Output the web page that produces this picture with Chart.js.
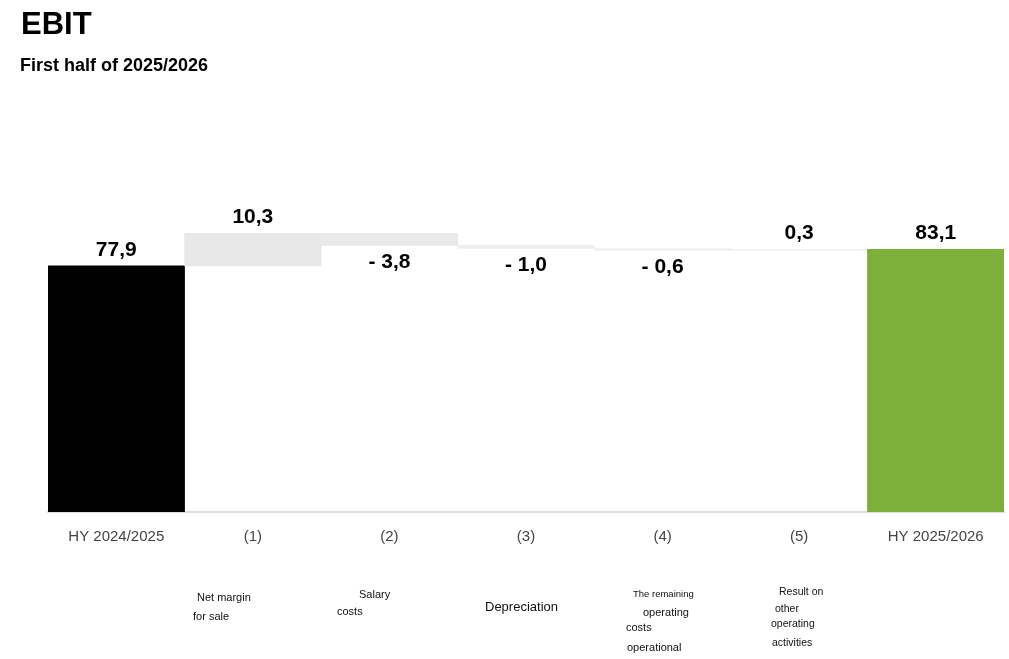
<!DOCTYPE html>
<html>
<head>
<meta charset="utf-8">
<script src="https://cdn.jsdelivr.net/npm/chart.js@4"></script>
<style>
    body { margin: 0; background: #fff; font-family: "Liberation Sans", Arial, sans-serif; }
    #wrap { position: relative; width: 1009px; height: 659px; overflow: hidden; }
    #chart-box { position: absolute; left: 0; top: 0; width: 1009px; height: 659px; }
    .title { position: absolute; left: 21px; top: 8px; font-size: 31px; font-weight: bold; line-height: 1; color: #000; }
    .subtitle { position: absolute; left: 20px; top: 56px; font-size: 18px; font-weight: bold; line-height: 1; color: #000; }
    .note { position: absolute; line-height: 1; color: #111; white-space: nowrap; }
</style>
</head>
<body>
<div id="wrap">
    <div id="chart-box"><canvas id="ebitChart"></canvas></div>
    <div class="title">EBIT</div>
    <div class="subtitle">First half of 2025/2026</div>

    <!-- подписи под категориями -->
    <div class="note" style="left:197px; top:592px; font-size:11px;">Net margin</div>
    <div class="note" style="left:193px; top:611px; font-size:11px;">for sale</div>
    <div class="note" style="left:359px; top:589px; font-size:11px;">Salary</div>
    <div class="note" style="left:337px; top:606px; font-size:11px;">costs</div>
    <div class="note" style="left:485px; top:600px; font-size:13px;">Depreciation</div>
    <div class="note" style="left:633px; top:589px; font-size:9.5px;">The remaining</div>
    <div class="note" style="left:643px; top:607px; font-size:11px;">operating</div>
    <div class="note" style="left:626px; top:622px; font-size:11px;">costs</div>
    <div class="note" style="left:627px; top:642px; font-size:11px;">operational</div>
    <div class="note" style="left:779px; top:586px; font-size:10.5px;">Result on</div>
    <div class="note" style="left:775px; top:603px; font-size:10.5px;">other</div>
    <div class="note" style="left:771px; top:618px; font-size:10.5px;">operating</div>
    <div class="note" style="left:772px; top:637px; font-size:10.5px;">activities</div>
</div>
<script>
// ================================
// Данные
// ================================
const categories = ['HY 2024/2025', '(1)', '(2)', '(3)', '(4)', '(5)', 'HY 2025/2026'];
const startValue = 77.9;
const deltas = [10.3, -3.8, -1.0, -0.6, 0.3];
const endValue = 83.1;
const barColors = ['#000000', '#e8e8e8', '#e9e9e9', '#eeeeee', '#f0f0f0', '#f1f1f1', '#7cb03b'];

// Строим плавающие столбцы водопада
const bars = [[0, startValue]];
const labels = [startValue];
let running = startValue;
deltas.forEach(d => {
    const next = Math.round((running + d) * 10) / 10;
    bars.push([running, next]);
    labels.push(d);
    running = next;
});
bars.push([0, endValue]);
labels.push(endValue);

function formatValue(v) {
    const s = Math.abs(v).toFixed(1).replace('.', ',');
    return v < 0 ? '- ' + s : s;
}

// Подписи значений: положительные над столбцом, отрицательные под ним
const valueLabels = {
    id: 'valueLabels',
    afterDatasetsDraw(chart) {
        const ctx = chart.ctx;
        const meta = chart.getDatasetMeta(0);
        ctx.save();
        ctx.font = 'bold 21px "Liberation Sans", Arial, sans-serif';
        ctx.fillStyle = '#000';
        ctx.textAlign = 'center';
        ctx.textBaseline = 'middle';
        meta.data.forEach((bar, i) => {
            const v = labels[i];
            const top = Math.min(bar.y, bar.base);
            const bottom = Math.max(bar.y, bar.base);
            const y = v < 0 ? bottom + 17 : top - 16;
            ctx.fillText(formatValue(v), bar.x, y);
        });
        ctx.restore();
    }
};

new Chart(document.getElementById('ebitChart'), {
    type: 'bar',
    data: {
        labels: categories,
        datasets: [{
            data: bars,
            backgroundColor: barColors,
            borderWidth: 0,
            borderSkipped: false,
            categoryPercentage: 1.0,
            barPercentage: 1.0
        }]
    },
    options: {
        responsive: true,
        maintainAspectRatio: false,
        animation: false,
        layout: { padding: { left: 48, right: 5, top: 196, bottom: 97 } },
        plugins: {
            legend: { display: false },
            tooltip: { enabled: false }
        },
        scales: {
            x: {
                grid: { display: false, drawTicks: false },
                border: { display: true, color: '#dedede', width: 2 },
                ticks: {
                    color: '#444',
                    padding: 16,
                    font: { family: '"Liberation Sans", Arial, sans-serif', size: 15 }
                }
            },
            y: {
                display: false,
                min: 0,
                max: 100
            }
        }
    },
    plugins: [valueLabels]
});
</script>
</body>
</html>
